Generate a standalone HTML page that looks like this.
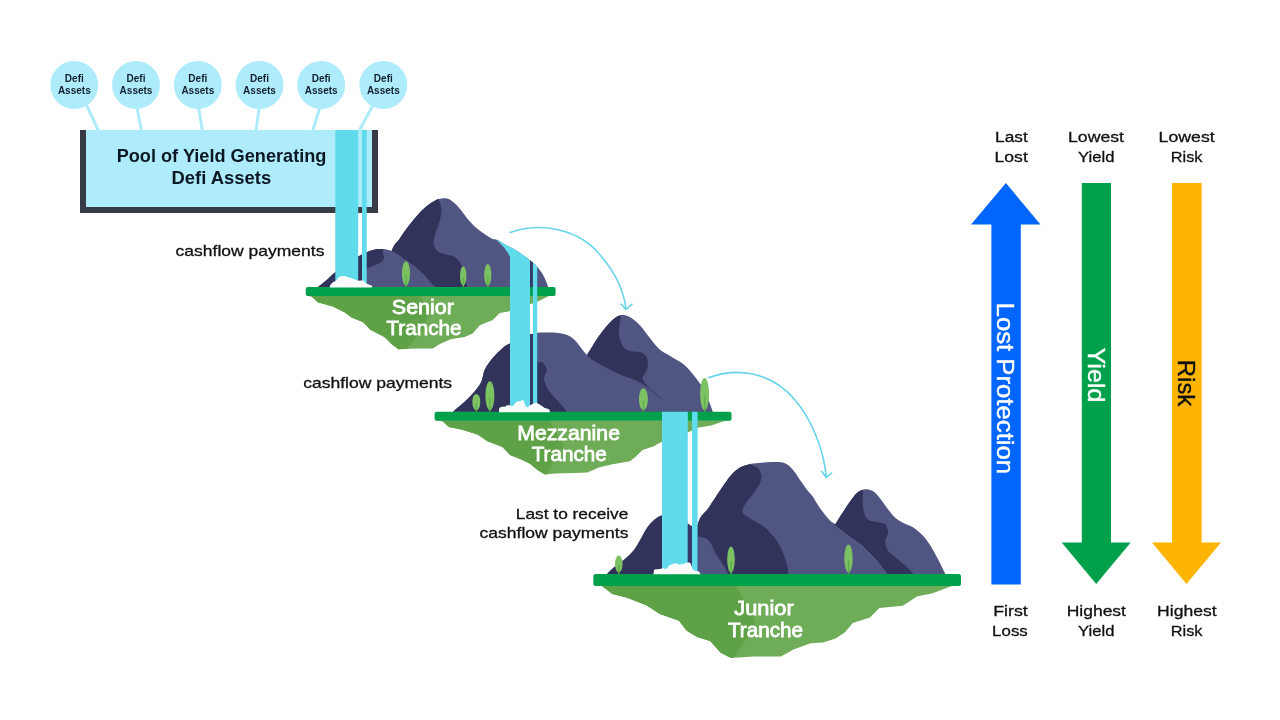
<!DOCTYPE html>
<html><head><meta charset="utf-8"><style>
html,body{margin:0;padding:0;background:#fff;width:1280px;height:720px;overflow:hidden}
svg{display:block;will-change:transform}
text{font-family:"Liberation Sans",sans-serif}
</style></head><body>
<svg width="1280" height="720" viewBox="0 0 1280 720">

<g stroke="#aeecfb" stroke-width="3" stroke-linecap="round">
<line x1="87" y1="106" x2="98.6" y2="131"/>
<line x1="137" y1="108" x2="141.6" y2="131"/>
<line x1="198.6" y1="108" x2="202.5" y2="131"/>
<line x1="259" y1="108" x2="256" y2="131"/>
<line x1="319.7" y1="108" x2="312.6" y2="131"/>
<line x1="372.5" y1="106" x2="359" y2="131"/>
</g>
<g fill="#aeecfb">
<circle cx="74.3" cy="85" r="24"/>
<circle cx="136" cy="85" r="24"/>
<circle cx="197.8" cy="85" r="24"/>
<circle cx="259.5" cy="85" r="24"/>
<circle cx="321.2" cy="85" r="24"/>
<circle cx="383.3" cy="85" r="24"/>
</g>
<g fill="#12202e" font-weight="bold" font-size="10" text-anchor="middle">
<text x="74.3" y="81.7">Defi</text><text x="74.3" y="93.7">Assets</text>
<text x="136" y="81.7">Defi</text><text x="136" y="93.7">Assets</text>
<text x="197.8" y="81.7">Defi</text><text x="197.8" y="93.7">Assets</text>
<text x="259.5" y="81.7">Defi</text><text x="259.5" y="93.7">Assets</text>
<text x="321.2" y="81.7">Defi</text><text x="321.2" y="93.7">Assets</text>
<text x="383.3" y="81.7">Defi</text><text x="383.3" y="93.7">Assets</text>
</g>
<rect x="80" y="130" width="298" height="83" fill="#363b45"/>
<rect x="86" y="130" width="286" height="77" fill="#aeecfb"/>
<g fill="#0c1824" font-weight="bold" font-size="19">
<text x="116.7" y="162" textLength="209.7" lengthAdjust="spacingAndGlyphs">Pool of Yield Generating</text>
<text x="171.5" y="184" textLength="99.7" lengthAdjust="spacingAndGlyphs">Defi Assets</text>
</g>
<g fill="#111" stroke="#111" stroke-width="0.3" font-size="15">
<text x="175.6" y="256.2" textLength="148.8" lengthAdjust="spacingAndGlyphs">cashflow payments</text>
<text x="303.2" y="387.9" textLength="148.9" lengthAdjust="spacingAndGlyphs">cashflow payments</text>
<text x="515.8" y="518.6" textLength="112.6" lengthAdjust="spacingAndGlyphs">Last to receive</text>
<text x="479.6" y="538.2" textLength="148.8" lengthAdjust="spacingAndGlyphs">cashflow payments</text>
</g>
<g fill="none" stroke="#66d4ea" stroke-width="1.6" stroke-linecap="round" stroke-linejoin="round">
<path d="M510.2 232.5 C540 222 580 228 602 257.3 C616 274 624 292 626 309"/>
<path d="M621 304 L626 309.5 L632 304.2"/>
<path d="M709 377.6 C735 368 770 370 795 400 C812 420 824 450 826.3 477.4"/>
<path d="M821.8 471.4 L826.3 477.4 L831.7 473"/>
</g>
<clipPath id="u1"><path d="M306.0 295.5 L311.7 296.4 L317.6 302.3 L332.8 306.4 L344.5 312.3 L351.6 317.5 L363.3 322.2 L370.3 329.8 L384.4 336.9 L391.4 343.9 L398.4 349.2 L417.2 348.6 L432.9 348.6 L439.9 343.9 L450.5 339.2 L464.5 336.9 L472.7 333.4 L479.8 325.2 L492.7 319.9 L499.7 312.9 L510.2 311.1 L537.2 301.7 L548.9 295.9 L555.0 295.5 Z"/></clipPath>
<path d="M306.0 295.5 L311.7 296.4 L317.6 302.3 L332.8 306.4 L344.5 312.3 L351.6 317.5 L363.3 322.2 L370.3 329.8 L384.4 336.9 L391.4 343.9 L398.4 349.2 L417.2 348.6 L432.9 348.6 L439.9 343.9 L450.5 339.2 L464.5 336.9 L472.7 333.4 L479.8 325.2 L492.7 319.9 L499.7 312.9 L510.2 311.1 L537.2 301.7 L548.9 295.9 L555.0 295.5 Z" fill="#6eac58"/>
<path d="M420.0 294.0 C420.7 295.8 422.8 301.5 424.0 305.0 C425.2 308.5 427.3 310.8 427.0 315.0 C426.7 319.2 424.5 325.5 422.0 330.0 C419.5 334.5 415.0 338.3 412.0 342.0 C409.0 345.7 405.3 350.3 404.0 352.0 L404.0 372.0 L280 372.0 L280 289.0 Z" fill="#5ea146" clip-path="url(#u1)"/>
<clipPath id="cs1"><path d="M380.0 287.0 C382.0 280.9 388.5 258.4 391.8 250.4 C395.1 242.3 396.7 242.9 399.6 238.7 C402.5 234.5 406.1 229.3 409.3 225.1 C412.5 220.9 415.8 216.8 419.0 213.4 C422.2 210.0 425.9 206.9 428.8 204.6 C431.7 202.3 434.2 200.9 436.6 199.8 C439.0 198.8 441.3 198.4 443.4 198.3 C445.5 198.2 447.1 198.2 449.2 199.3 C451.3 200.4 453.7 202.4 456.0 204.6 C458.3 206.8 460.5 209.6 462.8 212.4 C465.1 215.2 467.3 218.6 469.6 221.2 C471.9 223.8 474.0 225.9 476.4 228.0 C478.8 230.1 481.6 232.0 484.2 233.8 C486.8 235.6 489.8 237.7 492.0 238.7 C494.2 239.7 495.1 238.8 497.5 239.9 C499.9 241.0 503.4 243.4 506.7 245.3 C510.0 247.2 513.6 248.7 517.5 251.2 C521.4 253.7 526.8 257.8 530.0 260.3 C533.2 262.8 534.5 263.7 536.7 266.2 C538.9 268.7 541.4 271.8 543.3 275.3 C545.2 278.8 547.5 285.1 548.3 287.0 Z"/></clipPath>
<path d="M380.0 287.0 C382.0 280.9 388.5 258.4 391.8 250.4 C395.1 242.3 396.7 242.9 399.6 238.7 C402.5 234.5 406.1 229.3 409.3 225.1 C412.5 220.9 415.8 216.8 419.0 213.4 C422.2 210.0 425.9 206.9 428.8 204.6 C431.7 202.3 434.2 200.9 436.6 199.8 C439.0 198.8 441.3 198.4 443.4 198.3 C445.5 198.2 447.1 198.2 449.2 199.3 C451.3 200.4 453.7 202.4 456.0 204.6 C458.3 206.8 460.5 209.6 462.8 212.4 C465.1 215.2 467.3 218.6 469.6 221.2 C471.9 223.8 474.0 225.9 476.4 228.0 C478.8 230.1 481.6 232.0 484.2 233.8 C486.8 235.6 489.8 237.7 492.0 238.7 C494.2 239.7 495.1 238.8 497.5 239.9 C499.9 241.0 503.4 243.4 506.7 245.3 C510.0 247.2 513.6 248.7 517.5 251.2 C521.4 253.7 526.8 257.8 530.0 260.3 C533.2 262.8 534.5 263.7 536.7 266.2 C538.9 268.7 541.4 271.8 543.3 275.3 C545.2 278.8 547.5 285.1 548.3 287.0 Z" fill="#505581"/>
<path d="M438.5 199.3 C439.0 201.0 441.2 205.8 441.4 209.5 C441.6 213.2 440.5 217.3 439.5 221.2 C438.5 225.1 436.6 229.2 435.6 232.9 C434.6 236.6 433.3 240.5 433.6 243.6 C433.9 246.7 435.6 249.5 437.5 251.3 C439.4 253.1 442.7 253.5 445.3 254.3 C447.9 255.1 451.0 255.2 453.1 256.2 C455.2 257.2 456.5 258.5 458.0 260.1 C459.5 261.7 460.8 263.4 462.0 266.0 C463.2 268.6 464.5 274.3 465.0 276.0 L467 288 L380 288 L380 195 L438.5 195 Z" fill="#31335b" clip-path="url(#cs1)"/>
<clipPath id="cs2"><path d="M318.1 287.0 C319.6 285.8 324.4 282.0 327.2 279.6 C330.0 277.2 331.8 275.1 334.9 272.5 C338.0 269.9 342.0 266.7 346.0 264.0 C350.0 261.3 355.2 258.3 358.7 256.3 C362.2 254.3 364.1 253.3 366.8 252.2 C369.5 251.1 372.6 250.1 375.0 249.6 C377.4 249.1 378.6 249.0 381.0 249.1 C383.4 249.2 386.6 249.5 389.2 250.2 C391.8 250.9 393.9 251.8 396.3 253.2 C398.7 254.5 400.5 256.3 403.4 258.3 C406.3 260.3 410.2 262.7 413.6 265.4 C417.0 268.1 420.5 271.3 423.7 274.5 C426.9 277.7 430.8 282.6 432.9 284.7 C434.9 286.8 435.5 286.6 436.0 287.0 Z"/></clipPath>
<path d="M318.1 287.0 C319.6 285.8 324.4 282.0 327.2 279.6 C330.0 277.2 331.8 275.1 334.9 272.5 C338.0 269.9 342.0 266.7 346.0 264.0 C350.0 261.3 355.2 258.3 358.7 256.3 C362.2 254.3 364.1 253.3 366.8 252.2 C369.5 251.1 372.6 250.1 375.0 249.6 C377.4 249.1 378.6 249.0 381.0 249.1 C383.4 249.2 386.6 249.5 389.2 250.2 C391.8 250.9 393.9 251.8 396.3 253.2 C398.7 254.5 400.5 256.3 403.4 258.3 C406.3 260.3 410.2 262.7 413.6 265.4 C417.0 268.1 420.5 271.3 423.7 274.5 C426.9 277.7 430.8 282.6 432.9 284.7 C434.9 286.8 435.5 286.6 436.0 287.0 Z" fill="#505581"/>
<path d="M383.1 244.0 C383.1 245.5 382.9 250.9 383.1 253.2 C383.3 255.5 384.5 256.3 384.1 257.8 C383.8 259.3 382.9 261.0 381.0 262.3 C379.1 263.6 375.3 264.9 372.9 265.9 C370.5 266.9 368.4 267.4 366.8 268.4 C365.2 269.4 364.2 270.4 363.5 272.0 C362.8 273.6 362.7 275.3 362.5 278.0 C362.3 280.7 362.5 286.3 362.5 288.0 L300 288 L300 244 Z" fill="#31335b" clip-path="url(#cs2)"/>
<ellipse cx="406.0" cy="273.4" rx="4.0" ry="12.1" fill="#7dc262"/>
<rect x="405.4" y="274.6" width="1.3" height="12.4" fill="#5aae4c"/>
<ellipse cx="463.2" cy="275.9" rx="3.2" ry="9.6" fill="#7dc262"/>
<rect x="462.6" y="276.9" width="1.3" height="10.1" fill="#5aae4c"/>
<ellipse cx="487.8" cy="274.8" rx="3.6" ry="10.8" fill="#7dc262"/>
<rect x="487.2" y="275.8" width="1.3" height="11.2" fill="#5aae4c"/>
<rect x="335.3" y="130" width="22.9" height="157" fill="#5fdbec"/>
<rect x="362" y="130" width="4.7" height="157" fill="#5fdbec"/>
<rect x="305.8" y="287" width="249.8" height="9" rx="2" fill="#01a14b"/>
<path d="M329.8 287.0 C329.8 286.8 329.6 286.4 330.0 285.7 C330.4 285.0 331.2 283.5 332.3 282.7 C333.4 281.9 335.4 281.5 336.4 280.6 C337.4 279.8 337.4 278.4 338.4 277.6 C339.4 276.8 341.0 276.1 342.5 276.0 C344.0 275.9 345.8 276.6 347.5 277.0 C349.2 277.4 350.9 278.0 352.6 278.6 C354.3 279.2 356.0 280.3 357.7 280.6 C359.4 280.9 361.3 280.1 362.8 280.6 C364.3 281.1 365.3 282.9 366.8 283.7 C368.3 284.5 371.0 285.1 371.9 285.7 C372.8 286.2 372.0 286.8 372.0 287.0 L372.0 287.4 L329.8 287.4 Z" fill="#f9fbfb"/>
<g fill="#fff" stroke="#fff" stroke-width="0.8" font-size="21">
<text x="391.8" y="313.8" textLength="62.2" lengthAdjust="spacingAndGlyphs">Senior</text>
<text x="386.5" y="335" textLength="74.9" lengthAdjust="spacingAndGlyphs">Tranche</text>
</g>
<clipPath id="u2"><path d="M435.0 420.6 L442.5 421.2 L448.8 426.9 L461.2 429.4 L477.5 434.4 L487.5 441.2 L502.5 446.9 L510.0 455.0 L522.5 460.0 L530.0 463.8 L537.5 470.0 L545.0 474.4 L555.0 473.5 L573.8 473.1 L587.5 472.5 L598.8 467.5 L611.2 464.4 L630.0 461.2 L636.2 456.2 L642.5 450.0 L653.8 446.2 L661.2 441.9 L688.8 431.9 L698.8 427.5 L711.2 425.6 L723.8 421.2 L731.0 420.6 Z"/></clipPath>
<path d="M435.0 420.6 L442.5 421.2 L448.8 426.9 L461.2 429.4 L477.5 434.4 L487.5 441.2 L502.5 446.9 L510.0 455.0 L522.5 460.0 L530.0 463.8 L537.5 470.0 L545.0 474.4 L555.0 473.5 L573.8 473.1 L587.5 472.5 L598.8 467.5 L611.2 464.4 L630.0 461.2 L636.2 456.2 L642.5 450.0 L653.8 446.2 L661.2 441.9 L688.8 431.9 L698.8 427.5 L711.2 425.6 L723.8 421.2 L731.0 420.6 Z" fill="#6eac58"/>
<path d="M548.8 419.0 C550.0 421.2 553.7 427.7 556.0 432.0 C558.3 436.3 562.2 441.7 562.5 445.0 C562.8 448.3 559.6 449.2 558.0 452.0 C556.4 454.8 555.0 458.0 553.0 462.0 C551.0 466.0 547.2 473.7 546.0 476.0 L546.0 496.0 L280 496.0 L280 414.0 Z" fill="#5ea146" clip-path="url(#u2)"/>
<clipPath id="cm2"><path d="M570.0 411.8 C571.7 403.5 577.1 371.6 580.0 362.0 C582.9 352.4 584.6 358.0 587.6 353.9 C590.6 349.8 594.5 342.5 598.3 337.1 C602.1 331.8 607.0 325.4 610.6 321.8 C614.2 318.2 616.7 316.3 619.7 315.4 C622.8 314.5 625.6 314.9 628.9 316.5 C632.2 318.1 636.0 321.2 639.6 324.9 C643.2 328.6 647.0 334.5 650.3 338.6 C653.6 342.7 655.9 346.2 659.5 349.3 C663.1 352.4 667.6 354.4 671.7 357.0 C675.8 359.6 679.8 361.0 683.9 364.6 C688.0 368.2 692.6 373.8 696.2 378.4 C699.8 383.0 702.5 386.5 705.3 392.1 C708.1 397.8 711.7 408.9 713.0 412.3 Z"/></clipPath>
<path d="M570.0 411.8 C571.7 403.5 577.1 371.6 580.0 362.0 C582.9 352.4 584.6 358.0 587.6 353.9 C590.6 349.8 594.5 342.5 598.3 337.1 C602.1 331.8 607.0 325.4 610.6 321.8 C614.2 318.2 616.7 316.3 619.7 315.4 C622.8 314.5 625.6 314.9 628.9 316.5 C632.2 318.1 636.0 321.2 639.6 324.9 C643.2 328.6 647.0 334.5 650.3 338.6 C653.6 342.7 655.9 346.2 659.5 349.3 C663.1 352.4 667.6 354.4 671.7 357.0 C675.8 359.6 679.8 361.0 683.9 364.6 C688.0 368.2 692.6 373.8 696.2 378.4 C699.8 383.0 702.5 386.5 705.3 392.1 C708.1 397.8 711.7 408.9 713.0 412.3 Z" fill="#505581"/>
<path d="M620.5 305.0 C620.5 307.0 620.8 312.6 620.5 317.2 C620.2 321.8 618.6 327.6 619.0 332.5 C619.4 337.4 620.9 343.2 622.8 346.3 C624.7 349.4 627.3 349.9 630.4 350.9 C633.5 351.9 638.3 351.1 641.1 352.4 C643.9 353.7 646.2 355.7 647.2 358.5 C648.2 361.3 648.0 365.9 647.2 369.2 C646.5 372.5 642.4 375.3 642.7 378.4 C643.0 381.4 646.6 384.9 648.8 387.5 C651.0 390.1 653.5 391.7 656.0 394.0 C658.5 396.3 661.7 398.5 664.0 401.5 C666.3 404.5 669.0 410.2 670.0 412.0 L560 412 L560 305 Z" fill="#31335b" clip-path="url(#cm2)"/>
<clipPath id="cm1"><path d="M452.9 411.8 C455.5 409.5 464.1 402.6 468.7 397.8 C473.3 393.1 478.0 387.9 480.6 383.3 C483.2 378.7 482.6 374.2 484.6 370.0 C486.6 365.8 489.4 362.0 492.5 358.3 C495.6 354.6 499.9 350.2 503.0 347.7 C506.1 345.1 506.2 345.3 511.0 343.0 C515.8 340.7 525.8 335.6 532.0 333.9 C538.2 332.1 542.7 332.5 548.0 332.5 C553.3 332.5 559.5 332.9 563.7 333.9 C567.9 334.9 570.1 336.2 573.0 338.5 C575.9 340.8 578.5 344.8 580.9 347.7 C583.3 350.6 585.1 353.3 587.5 355.6 C589.9 357.9 590.2 358.5 595.3 361.5 C600.4 364.5 610.6 370.2 618.2 373.8 C625.8 377.4 634.7 379.4 641.1 383.0 C647.5 386.6 652.6 392.2 656.4 395.2 C660.2 398.2 660.1 398.1 664.0 401.0 C667.9 403.9 677.3 410.4 680.0 412.3 Z"/></clipPath>
<path d="M452.9 411.8 C455.5 409.5 464.1 402.6 468.7 397.8 C473.3 393.1 478.0 387.9 480.6 383.3 C483.2 378.7 482.6 374.2 484.6 370.0 C486.6 365.8 489.4 362.0 492.5 358.3 C495.6 354.6 499.9 350.2 503.0 347.7 C506.1 345.1 506.2 345.3 511.0 343.0 C515.8 340.7 525.8 335.6 532.0 333.9 C538.2 332.1 542.7 332.5 548.0 332.5 C553.3 332.5 559.5 332.9 563.7 333.9 C567.9 334.9 570.1 336.2 573.0 338.5 C575.9 340.8 578.5 344.8 580.9 347.7 C583.3 350.6 585.1 353.3 587.5 355.6 C589.9 357.9 590.2 358.5 595.3 361.5 C600.4 364.5 610.6 370.2 618.2 373.8 C625.8 377.4 634.7 379.4 641.1 383.0 C647.5 386.6 652.6 392.2 656.4 395.2 C660.2 398.2 660.1 398.1 664.0 401.0 C667.9 403.9 677.3 410.4 680.0 412.3 Z" fill="#505581"/>
<path d="M537.3 330.0 C537.3 335.0 536.4 354.8 537.3 360.2 C538.2 365.6 541.0 360.6 542.6 362.2 C544.2 363.8 546.4 367.1 546.6 370.0 C546.8 372.9 543.6 375.9 544.0 379.4 C544.4 382.9 546.6 387.3 549.2 391.2 C551.8 395.1 556.7 399.4 559.8 403.0 C562.9 406.6 566.4 411.2 567.7 412.8 L440 413 L440 330 Z" fill="#31335b" clip-path="url(#cm1)"/>
<ellipse cx="476.3" cy="402.1" rx="4.0" ry="8.2" fill="#7dc262"/>
<rect x="475.7" y="403.0" width="1.3" height="8.8" fill="#5aae4c"/>
<ellipse cx="489.9" cy="395.8" rx="4.5" ry="14.5" fill="#7dc262"/>
<rect x="489.2" y="397.2" width="1.3" height="14.6" fill="#5aae4c"/>
<ellipse cx="643.4" cy="399.3" rx="4.5" ry="11.0" fill="#7dc262"/>
<rect x="642.8" y="400.4" width="1.3" height="11.4" fill="#5aae4c"/>
<ellipse cx="704.6" cy="394.1" rx="4.5" ry="16.2" fill="#7dc262"/>
<rect x="704.0" y="395.8" width="1.3" height="16.0" fill="#5aae4c"/>
<path d="M492 232 L530 232 L530 288 L510 288 L510 257 C508 252 503 245 492 236 Z" fill="#5fdbec" clip-path="url(#cs1)"/>
<rect x="530" y="250" width="3" height="38" fill="#363a68" clip-path="url(#cs1)"/>
<rect x="532.9" y="250" width="4.3" height="38" fill="#5fdbec" clip-path="url(#cs1)"/>
<rect x="510" y="286.5" width="20" height="125.3" fill="#5fdbec"/>
<rect x="532.9" y="286.5" width="4.3" height="125.3" fill="#5fdbec"/>
<rect x="530" y="334" width="3" height="77.8" fill="#363a68"/>
<rect x="434.6" y="411.8" width="296.9" height="8.9" rx="2" fill="#01a14b"/>
<path d="M499.0 411.5 C499.0 411.0 498.8 409.5 499.2 408.8 C499.6 408.0 500.1 407.3 501.1 406.9 C502.1 406.5 504.1 406.7 505.3 406.4 C506.5 406.1 506.9 405.1 508.1 405.0 C509.4 404.9 511.5 406.4 512.8 405.9 C514.1 405.4 514.7 403.0 516.1 402.2 C517.5 401.4 520.1 401.2 521.3 400.8 C522.5 400.4 522.5 399.2 523.1 399.8 C523.7 400.4 524.4 402.9 525.0 404.1 C525.6 405.4 526.1 407.1 526.9 407.3 C527.7 407.5 528.8 406.0 529.7 405.5 C530.6 405.0 531.4 404.6 532.5 404.1 C533.6 403.6 535.3 402.7 536.3 402.7 C537.3 402.7 537.7 403.6 538.6 404.1 C539.5 404.6 540.7 405.2 541.9 405.9 C543.1 406.6 544.4 407.8 545.6 408.3 C546.8 408.9 548.2 408.7 548.9 409.2 C549.6 409.7 549.7 411.1 549.9 411.5 L549.9 412.2 L499.0 412.2 Z" fill="#f9fbfb"/>
<g fill="#fff" stroke="#fff" stroke-width="0.8" font-size="21">
<text x="517.2" y="439.6" textLength="102.8" lengthAdjust="spacingAndGlyphs">Mezzanine</text>
<text x="531.7" y="461.4" textLength="75.1" lengthAdjust="spacingAndGlyphs">Tranche</text>
</g>
<clipPath id="u3"><path d="M594.0 585.5 L601.9 585.9 L612.3 594.1 L627.1 597.8 L646.4 605.2 L659.8 614.1 L679.0 620.8 L686.5 630.5 L696.9 637.1 L710.2 640.9 L720.6 652.7 L731.0 657.9 L753.3 656.4 L780.9 656.6 L793.4 649.5 L810.6 643.3 L823.1 642.5 L835.6 638.6 L845.0 632.3 L852.8 623.0 L870.0 617.5 L879.4 608.1 L902.8 605.8 L916.9 596.4 L932.5 593.3 L951.2 586.2 L960.0 585.5 Z"/></clipPath>
<path d="M594.0 585.5 L601.9 585.9 L612.3 594.1 L627.1 597.8 L646.4 605.2 L659.8 614.1 L679.0 620.8 L686.5 630.5 L696.9 637.1 L710.2 640.9 L720.6 652.7 L731.0 657.9 L753.3 656.4 L780.9 656.6 L793.4 649.5 L810.6 643.3 L823.1 642.5 L835.6 638.6 L845.0 632.3 L852.8 623.0 L870.0 617.5 L879.4 608.1 L902.8 605.8 L916.9 596.4 L932.5 593.3 L951.2 586.2 L960.0 585.5 Z" fill="#6eac58"/>
<path d="M735.5 584.0 C737.2 587.3 742.7 597.7 745.9 603.7 C749.1 609.7 753.8 615.6 754.8 620.0 C755.8 624.4 753.5 626.8 752.0 630.0 C750.5 633.2 749.2 634.4 745.9 639.4 C742.6 644.4 734.3 656.6 732.0 660.0 L732.0 680.0 L280 680.0 L280 579.0 Z" fill="#5ea146" clip-path="url(#u3)"/>
<clipPath id="cj1"><path d="M690.0 574.0 C691.2 565.8 694.4 536.1 697.5 525.0 C700.6 513.9 704.8 513.5 708.8 507.5 C712.7 501.5 717.5 494.2 721.2 488.8 C725.0 483.3 728.1 478.5 731.2 475.0 C734.4 471.5 737.1 469.3 740.0 467.5 C742.9 465.7 745.6 465.1 748.8 464.4 C751.9 463.7 755.0 463.5 758.8 463.1 C762.5 462.7 767.3 462.2 771.2 462.1 C775.2 462.0 779.6 461.9 782.5 462.5 C785.4 463.1 786.7 463.9 788.8 465.6 C790.8 467.3 793.1 470.1 795.0 472.5 C796.9 474.9 798.1 477.3 800.0 480.0 C801.9 482.7 804.2 486.0 806.2 488.8 C808.3 491.5 810.4 493.3 812.5 496.2 C814.6 499.2 816.5 502.9 818.8 506.2 C821.0 509.6 823.7 513.2 826.2 516.2 C828.8 519.3 832.6 523.0 833.9 524.4 L847.8 535.6 L861.7 545.3 L875.6 559.2 L886.7 573 L900 575 Z"/></clipPath>
<path d="M690.0 574.0 C691.2 565.8 694.4 536.1 697.5 525.0 C700.6 513.9 704.8 513.5 708.8 507.5 C712.7 501.5 717.5 494.2 721.2 488.8 C725.0 483.3 728.1 478.5 731.2 475.0 C734.4 471.5 737.1 469.3 740.0 467.5 C742.9 465.7 745.6 465.1 748.8 464.4 C751.9 463.7 755.0 463.5 758.8 463.1 C762.5 462.7 767.3 462.2 771.2 462.1 C775.2 462.0 779.6 461.9 782.5 462.5 C785.4 463.1 786.7 463.9 788.8 465.6 C790.8 467.3 793.1 470.1 795.0 472.5 C796.9 474.9 798.1 477.3 800.0 480.0 C801.9 482.7 804.2 486.0 806.2 488.8 C808.3 491.5 810.4 493.3 812.5 496.2 C814.6 499.2 816.5 502.9 818.8 506.2 C821.0 509.6 823.7 513.2 826.2 516.2 C828.8 519.3 832.6 523.0 833.9 524.4 L847.8 535.6 L861.7 545.3 L875.6 559.2 L886.7 573 L900 575 Z" fill="#505581"/>
<path d="M751.2 455.0 C751.2 456.6 750.2 462.3 751.2 464.4 C752.3 466.5 755.8 465.7 757.5 467.5 C759.2 469.3 760.8 472.5 761.2 475.0 C761.7 477.5 761.0 479.8 760.0 482.5 C759.0 485.2 757.3 487.9 755.0 491.2 C752.7 494.6 748.3 499.4 746.2 502.5 C744.2 505.6 742.7 507.9 742.5 510.0 C742.3 512.1 742.9 513.1 745.0 515.0 C747.1 516.9 751.7 519.2 755.0 521.2 C758.3 523.3 761.8 524.9 765.0 527.5 C768.2 530.1 771.3 533.6 774.0 537.0 C776.7 540.4 778.9 543.6 781.0 548.0 C783.1 552.4 785.2 558.8 786.5 563.3 C787.8 567.8 788.3 573.0 788.7 575.0 L680 575 L680 455 Z" fill="#31335b" clip-path="url(#cj1)"/>
<clipPath id="cj2"><path d="M835.3 524.4 C836.4 522.5 839.7 517.2 842.2 513.3 C844.8 509.4 848.1 504.3 850.6 500.8 C853.1 497.3 855.2 494.4 857.5 492.5 C859.8 490.6 861.9 489.6 864.4 489.4 C866.9 489.2 870.2 489.7 872.8 491.1 C875.3 492.5 877.2 495.0 879.7 498.0 C882.2 501.0 885.5 505.9 888.0 509.2 C890.5 512.5 892.5 515.2 895.0 517.5 C897.5 519.8 900.3 521.4 903.3 523.0 C906.3 524.6 909.8 525.1 913.0 527.2 C916.2 529.3 919.8 532.4 922.8 535.6 C925.8 538.9 928.6 542.8 931.1 546.7 C933.6 550.6 935.8 555.0 938.0 559.2 C940.2 563.4 943.0 569.1 944.3 571.7 C945.6 574.3 945.7 574.5 946.0 575.0 L886.7 575 L886.7 573 L875.6 559.2 L861.7 545.3 L847.8 535.6 L833.9 524.4 L832 522 Z"/></clipPath>
<path d="M835.3 524.4 C836.4 522.5 839.7 517.2 842.2 513.3 C844.8 509.4 848.1 504.3 850.6 500.8 C853.1 497.3 855.2 494.4 857.5 492.5 C859.8 490.6 861.9 489.6 864.4 489.4 C866.9 489.2 870.2 489.7 872.8 491.1 C875.3 492.5 877.2 495.0 879.7 498.0 C882.2 501.0 885.5 505.9 888.0 509.2 C890.5 512.5 892.5 515.2 895.0 517.5 C897.5 519.8 900.3 521.4 903.3 523.0 C906.3 524.6 909.8 525.1 913.0 527.2 C916.2 529.3 919.8 532.4 922.8 535.6 C925.8 538.9 928.6 542.8 931.1 546.7 C933.6 550.6 935.8 555.0 938.0 559.2 C940.2 563.4 943.0 569.1 944.3 571.7 C945.6 574.3 945.7 574.5 946.0 575.0 L886.7 575 L886.7 573 L875.6 559.2 L861.7 545.3 L847.8 535.6 L833.9 524.4 L832 522 Z" fill="#505581"/>
<path d="M863.0 480.0 C863.0 481.7 863.0 485.8 863.0 490.4 C863.0 495.0 862.3 503.1 863.0 507.8 C863.7 512.5 865.1 516.6 867.2 518.9 C869.3 521.2 872.6 520.8 875.6 521.7 C878.6 522.6 883.2 522.5 885.3 524.4 C887.4 526.2 888.0 530.0 888.0 532.8 C888.0 535.6 885.3 538.1 885.3 541.1 C885.3 544.1 885.9 547.8 888.0 550.8 C890.1 553.8 894.3 556.2 897.8 559.2 C901.3 562.2 906.1 566.3 908.9 568.9 C911.7 571.5 913.5 574.0 914.4 575.0 L820 575 L820 480 Z" fill="#31335b" clip-path="url(#cj2)"/>
<path d="M606.9 574.0 C608.2 572.7 612.0 568.8 615.0 566.3 C618.0 563.8 621.9 561.5 625.0 558.8 C628.1 556.1 631.3 553.1 633.8 550.0 C636.3 546.9 637.9 543.5 640.0 540.0 C642.1 536.5 644.2 531.9 646.3 528.8 C648.4 525.7 650.0 523.5 652.5 521.3 C655.0 519.1 657.5 516.8 661.3 515.6 C665.0 514.4 669.9 512.2 675.0 514.0 C680.1 515.8 688.2 524.5 692.0 526.3 C695.8 528.1 697.0 525.2 698.0 525.0 L705 574 Z" fill="#31335b"/>
<path d="M697.8 536.3 C699.2 536.7 704.0 537.5 706.3 538.8 C708.5 540.0 709.8 541.5 711.3 543.8 C712.8 546.1 713.5 549.8 715.0 552.5 C716.5 555.2 718.2 557.2 720.0 560.0 C721.8 562.8 724.7 567.1 726.0 569.4 C727.3 571.7 727.7 573.2 728.0 574.0 L697.8 574 Z" fill="#505581"/>
<ellipse cx="618.8" cy="564.0" rx="3.8" ry="8.4" fill="#7dc262"/>
<rect x="618.1" y="564.9" width="1.3" height="9.1" fill="#5aae4c"/>
<ellipse cx="731.0" cy="559.5" rx="3.8" ry="13.0" fill="#7dc262"/>
<rect x="730.4" y="560.8" width="1.3" height="13.2" fill="#5aae4c"/>
<ellipse cx="848.5" cy="558.5" rx="4.2" ry="13.9" fill="#7dc262"/>
<rect x="847.9" y="559.9" width="1.3" height="14.1" fill="#5aae4c"/>
<rect x="662" y="411.8" width="25.8" height="162.2" fill="#5fdbec"/>
<rect x="687.8" y="526" width="4.2" height="48" fill="#363a68"/>
<rect x="692" y="411.8" width="5.6" height="162.2" fill="#5fdbec"/>
<rect x="593.3" y="574" width="367.7" height="12" rx="2.5" fill="#01a14b"/>
<path d="M653.6 573.6 C653.8 573.0 653.4 570.5 654.5 569.7 C655.6 569.0 658.8 569.4 660.2 569.1 C661.6 568.9 661.8 568.1 662.8 568.1 C663.8 568.0 665.2 569.3 666.3 568.9 C667.4 568.4 667.9 566.3 669.4 565.4 C670.9 564.4 673.6 563.3 675.5 563.2 C677.4 563.1 678.4 564.8 680.5 564.6 C682.6 564.5 686.4 562.5 688.1 562.4 C689.8 562.3 689.9 562.6 690.7 563.8 C691.6 565.0 691.9 568.5 693.2 569.7 C694.5 571.0 697.1 570.6 698.3 571.2 C699.5 571.9 700.0 573.2 700.3 573.6 L700.3 574.2 L653.6 574.2 Z" fill="#f9fbfb"/>
<g fill="#fff" stroke="#fff" stroke-width="0.8" font-size="21">
<text x="734.3" y="615" textLength="59.4" lengthAdjust="spacingAndGlyphs">Junior</text>
<text x="728" y="637" textLength="75" lengthAdjust="spacingAndGlyphs">Tranche</text>
</g>
<path d="M991.4 584.5 V224.6 H971 L1005.9 183 L1040.5 224.6 H1020.8 V584.5 Z" fill="#0066fe"/>
<path d="M1081.8 183 V542.5 H1061.7 L1096.2 584 L1130.7 542.5 H1111 V183 Z" fill="#01a14b"/>
<path d="M1172 183 V542.5 H1152 L1186.5 584 L1221 542.5 H1201.6 V183 Z" fill="#feb501"/>
<g fill="#fff" stroke="#fff" stroke-width="0.4" font-size="24">
<text transform="translate(997.3 302.6) rotate(90)" textLength="171.5" lengthAdjust="spacingAndGlyphs">Lost Protection</text>
<text transform="translate(1087.6 347.5) rotate(90)" textLength="55" lengthAdjust="spacingAndGlyphs">Yield</text>
</g>
<text transform="translate(1177.6 359.8) rotate(90)" font-size="24" fill="#111" stroke="#111" stroke-width="0.4" textLength="46.5" lengthAdjust="spacingAndGlyphs">Risk</text>
<g fill="#111" stroke="#111" stroke-width="0.3" font-size="15.3">
<text x="995.1" y="141.5" textLength="32.7" lengthAdjust="spacingAndGlyphs">Last</text>
<text x="994.5" y="161.6" textLength="33.3" lengthAdjust="spacingAndGlyphs">Lost</text>
<text x="1068.0" y="141.5" textLength="56.0" lengthAdjust="spacingAndGlyphs">Lowest</text>
<text x="1078.0" y="161.6" textLength="36.4" lengthAdjust="spacingAndGlyphs">Yield</text>
<text x="1158.6" y="141.5" textLength="56.1" lengthAdjust="spacingAndGlyphs">Lowest</text>
<text x="1170.8" y="161.6" textLength="31.7" lengthAdjust="spacingAndGlyphs">Risk</text>
<text x="993.2" y="615.6" textLength="34.6" lengthAdjust="spacingAndGlyphs">First</text>
<text x="992.1" y="635.9" textLength="35.7" lengthAdjust="spacingAndGlyphs">Loss</text>
<text x="1066.7" y="615.6" textLength="59.3" lengthAdjust="spacingAndGlyphs">Highest</text>
<text x="1078.0" y="635.9" textLength="36.4" lengthAdjust="spacingAndGlyphs">Yield</text>
<text x="1157.1" y="615.6" textLength="59.5" lengthAdjust="spacingAndGlyphs">Highest</text>
<text x="1170.8" y="635.9" textLength="31.7" lengthAdjust="spacingAndGlyphs">Risk</text>
</g>
</svg>
</body></html>
